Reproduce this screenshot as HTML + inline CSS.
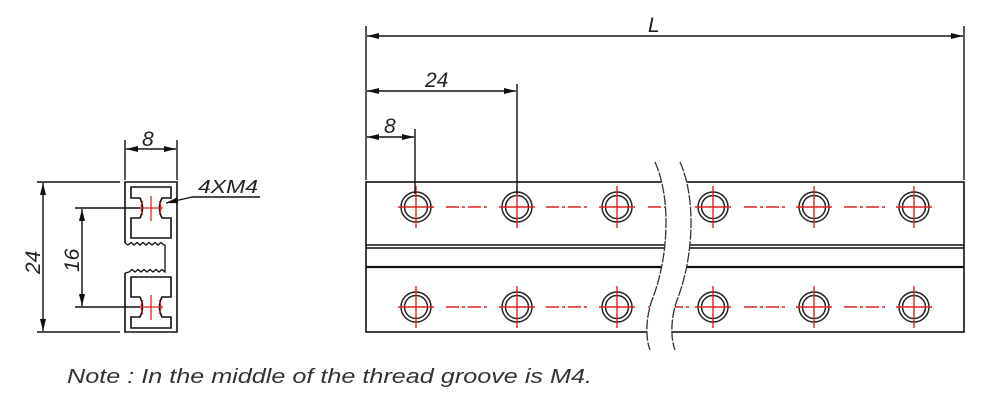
<!DOCTYPE html>
<html><head><meta charset="utf-8"><style>
html,body{margin:0;padding:0;background:#fff;}
svg{display:block;}
text{font-family:"Liberation Sans","DejaVu Sans",sans-serif;font-style:italic;fill:#222;}
</style></head><body>
<svg width="1000" height="412" viewBox="0 0 1000 412" xmlns="http://www.w3.org/2000/svg">
<defs>
<marker id="a" viewBox="0 0 12 6" refX="12" refY="3" markerWidth="12" markerHeight="6" orient="auto-start-reverse" markerUnits="userSpaceOnUse">
<path d="M0,0 L12,3 L0,6 Z" fill="#111"/></marker>
<g id="hole">
<circle r="15" fill="none" stroke="#222" stroke-width="1.5"/>
<circle r="11.5" fill="none" stroke="#222" stroke-width="1.5"/>
<line x1="-18" y1="0" x2="18" y2="0" stroke="#d22" stroke-width="1.4"/>
<line x1="0" y1="-21" x2="0" y2="21" stroke="#d22" stroke-width="1.4"/>
</g>
<g id="slot">
<path d="M131,187 H171 V198 H162 Q157,208 162,218 H171 V238 H131 V218 H140 Q145,208 140,198 H131 Z" fill="none" stroke="#111" stroke-width="1.6"/>
</g>
</defs>

<g stroke="#111" stroke-width="1.6" fill="none">
<path d="M125,243 V182 H177 V332 H125 V273"/>
<path d="M125,243 L128,245 l3,-2.5 l3,2.5 l3,-2.5 l3,2.5 l3,-2.5 l3,2.5 l3,-2.5 l3,2.5 l3,-2.5 l3,2.5 l3,-2.5 l3,2.5 L165,245 V272 l-3,-2.5 l-3,2.5 l-3,-2.5 l-3,2.5 l-3,-2.5 l-3,2.5 l-3,-2.5 l-3,2.5 l-3,-2.5 l-3,2.5 l-3,-2.5 l-3,2.5 L125,273" stroke-width="1.3"/>
</g>
<use href="#slot"/>
<use href="#slot" transform="translate(0,515) scale(1,-1)"/>
<g stroke="#d22" stroke-width="1.3" fill="none">
<line x1="151" y1="196" x2="151" y2="221"/><line x1="140" y1="208" x2="163" y2="208"/>
<line x1="151" y1="295" x2="151" y2="320"/><line x1="140" y1="307" x2="163" y2="307"/>
<path d="M143,201 Q139,208 143,215 M159,201 Q163,208 159,215 M143,300 Q139,307 143,314 M159,300 Q163,307 159,314" stroke-width="1"/>
</g>
<g stroke="#111" stroke-width="1.4" fill="none">
<line x1="37" y1="182" x2="120" y2="182"/><line x1="37" y1="332" x2="120" y2="332"/>
<line x1="43" y1="183" x2="43" y2="331" marker-start="url(#a)" marker-end="url(#a)"/>
<line x1="75" y1="208" x2="140" y2="208"/><line x1="75" y1="307" x2="140" y2="307"/>
<line x1="82" y1="209" x2="82" y2="306" marker-start="url(#a)" marker-end="url(#a)"/>
<line x1="125" y1="140" x2="125" y2="180"/><line x1="177" y1="140" x2="177" y2="180"/>
<line x1="126" y1="149" x2="176" y2="149" marker-start="url(#a)" marker-end="url(#a)"/>
<line x1="192" y1="197" x2="260" y2="197"/>
<line x1="192" y1="197" x2="166" y2="203" marker-end="url(#a)"/>
</g>
<text x="142" y="146" font-size="21">8</text>
<text x="198" y="193" font-size="18" textLength="60" lengthAdjust="spacingAndGlyphs">4XM4</text>
<text transform="translate(40,274) rotate(-90)" font-size="21">24</text>
<text transform="translate(79,272) rotate(-90)" font-size="21">16</text>

<g stroke="#111" fill="none">
<rect x="366" y="182" width="598" height="150" stroke-width="1.6"/>
<line x1="366" y1="245" x2="964" y2="245" stroke-width="1.5"/>
<line x1="366" y1="248" x2="964" y2="248" stroke-width="1.5"/>
<line x1="366" y1="267" x2="964" y2="267" stroke-width="2.2"/>
</g>
<g stroke="#d22" stroke-width="1.4" stroke-dasharray="13,3,3,3">
<line x1="446" y1="207" x2="490" y2="207"/><line x1="546" y1="207" x2="590" y2="207"/>
<line x1="744" y1="207" x2="786" y2="207"/><line x1="844" y1="207" x2="886" y2="207"/>
<line x1="446" y1="307" x2="490" y2="307"/><line x1="546" y1="307" x2="590" y2="307"/>
<line x1="744" y1="307" x2="786" y2="307"/><line x1="844" y1="307" x2="886" y2="307"/>
<line x1="648" y1="207" x2="690" y2="207"/><line x1="648" y1="307" x2="690" y2="307"/>
</g>
<use href="#hole" x="416" y="207"/><use href="#hole" x="517" y="207"/><use href="#hole" x="617" y="207"/>
<use href="#hole" x="713" y="207"/><use href="#hole" x="814" y="207"/><use href="#hole" x="914" y="207"/>
<use href="#hole" x="416" y="307"/><use href="#hole" x="517" y="307"/><use href="#hole" x="617" y="307"/>
<use href="#hole" x="713" y="307"/><use href="#hole" x="814" y="307"/><use href="#hole" x="914" y="307"/>
<path d="M655,162 C672,200 668,260 652,300 C645,320 646,340 650,350 L675,350 C671,340 670,320 677,300 C693,260 697,200 680,162 Z" fill="#fff" stroke="none"/>
<path d="M655,162 C672,200 668,260 652,300 C645,320 646,340 650,350 M680,162 C697,200 693,260 677,300 C670,320 671,340 675,350" fill="none" stroke="#333" stroke-width="1.3" stroke-dasharray="10,1.5"/>
<g stroke="#111" stroke-width="1.4" fill="none">
<line x1="366" y1="26" x2="366" y2="180"/><line x1="964" y1="26" x2="964" y2="180"/>
<line x1="367" y1="36" x2="963" y2="36" marker-start="url(#a)" marker-end="url(#a)"/>
<line x1="517" y1="84" x2="517" y2="194"/>
<line x1="367" y1="91" x2="516" y2="91" marker-start="url(#a)" marker-end="url(#a)"/>
<line x1="415" y1="129" x2="415" y2="194"/>
<line x1="367" y1="137" x2="414" y2="137" marker-start="url(#a)" marker-end="url(#a)"/>
</g>
<text x="648" y="32" font-size="21">L</text>
<text x="425" y="87" font-size="21">24</text>
<text x="384" y="133" font-size="21">8</text>

<text x="67" y="383" font-size="20" textLength="525" lengthAdjust="spacingAndGlyphs" style="fill:#333">Note : In the middle of the thread groove  is M4.</text>
</svg>
</body></html>
